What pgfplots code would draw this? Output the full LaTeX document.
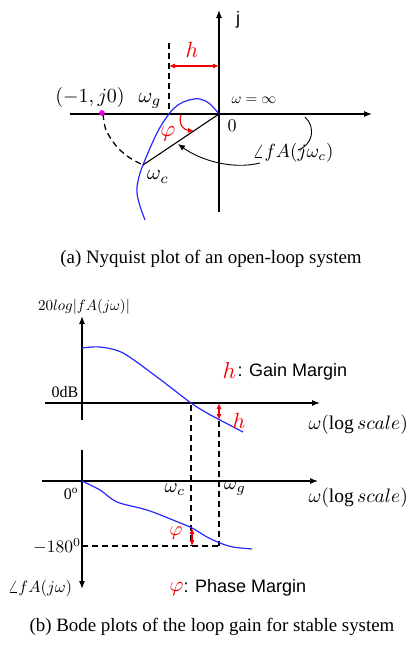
\documentclass[border=0pt]{standalone}
\usepackage{fontspec}
\usepackage{graphicx}
\usepackage{pgfplots}
\pgfplotsset{compat=1.18}
\usetikzlibrary{arrows.meta}
\setmainfont{Liberation Serif}
\newfontfamily\sansf{Liberation Sans}
\definecolor{curveblue}{RGB}{40,40,250}
\definecolor{marginred}{RGB}{240,0,0}
\definecolor{pointmag}{RGB}{230,0,230}
% math set at 10pt and scaled up to the wanted size
\newcommand\mth[2]{\scalebox{#1}{$#2$}}

\begin{document}
\begin{tikzpicture}[
  ax/.style={line width=1.1pt,-{Latex[length=8pt,width=6pt]}},
  dsh/.style={line width=1.5pt,dash pattern=on 6pt off 4pt},
  rarr/.style={marginred,line width=1.1pt,{Latex[length=6pt,width=5pt]}-{Latex[length=6pt,width=5pt]}},
]
\begin{axis}[scale only axis, width=409pt, height=645pt,
  xmin=0, xmax=409, ymin=0, ymax=645, y dir=reverse,
  hide axis, clip=false]

% ---------------- (a) Nyquist plot ----------------
\draw[ax] (70,114) -- (372,114);
\draw[ax] (219,212) -- (219,10);
\node[font=\sansf\fontsize{18}{20}\selectfont] at (238,20) {j};
\draw[dsh] (169,43) -- (169,114);
\draw[rarr] (169,66) -- (219,66);
\node[text=marginred] at (192,50) {\mth{2.2}{h}};

% loop-gain locus
\addplot[curveblue, line width=1.2pt, smooth, tension=0.6] coordinates {
  (219,114) (210,104) (200,99) (189,100) (178,105) (169,114)
  (157,133) (143,165) (138,181) (137,193) (140,206) (145,220)};
% unit-magnitude arc from (-1,j0) to the crossover point
\addplot[black, line width=1.3pt, dash pattern=on 6pt off 4pt, smooth] coordinates {
  (103,114) (106,130) (117,147) (130,158) (143,165)};
\draw[line width=1.1pt] (219,114) -- (143,165);
\addplot[only marks, mark=*, pointmag, mark size=2.6pt] coordinates {(102,113)};

\node at (90,97) {\mth{2.0}{(-1,j0)}};
\node at (150,101) {\mth{2.1}{\omega_g}};
\node at (254,100) {\mth{1.5}{\omega=\infty}};
\node at (232,126) {\mth{1.8}{0}};
\node at (158,177) {\mth{2.1}{\omega_c}};
\node[text=marginred] at (168,134) {\mth{2.3}{\varphi}};
\draw[marginred,line width=1.1pt,-{Latex[length=6pt,width=5pt]}]
  (181,115) .. controls (178,125) and (184,130) .. (194,131);
\draw[line width=0.9pt] (305,117) .. controls (316,127) and (313,145) .. (298,150);
\draw[line width=0.9pt,-{Latex[length=7pt,width=6pt]}]
  (260,163) .. controls (232,170) and (200,160) .. (178,144);
\node at (293,153) {\mth{1.9}{\angle fA(j\omega_c)}};

\node[font=\fontsize{18.9}{21}\selectfont] at (211,259) {(a) Nyquist plot of an open-loop system};

% ---------------- (b) Bode magnitude ----------------
\node at (84,307) {\mth{1.5}{20log|fA(j\omega)|}};
\draw[ax] (82,420) -- (82,316);
\draw[ax] (45,403) -- (320,403);
\node[font=\fontsize{16}{18}\selectfont] at (65,392) {0dB};
\addplot[curveblue, line width=1.2pt, smooth] coordinates {
  (82,348) (100,347) (123,353) (157,377) (191,403) (207,413) (220,420) (243,432)};
\draw[dsh] (191,405) -- (191,546);
\draw[dsh] (219,421) -- (219,546);
\draw[rarr] (219,403) -- (219,420);
\node[text=marginred] at (239,421) {\mth{2.2}{h}};
\node[anchor=west,text=marginred] at (219,371) {\mth{2.3}{h}};
\node[anchor=west,font=\sansf\fontsize{18}{20}\selectfont] at (234,372) {: Gain Margin};
\node[anchor=west] at (305,425) {\mth{1.95}{\omega(\log scale)}};

% ---------------- (b) Bode phase ----------------
\draw[ax] (42,481) -- (318,481);
\draw[ax] (82,450) -- (82,589);
\node[font=\fontsize{16}{18}\selectfont] at (71,494) {0\textsuperscript{o}};
\addplot[curveblue, line width=1.2pt, smooth] coordinates {
  (82,481) (100,490) (117,502) (147,510) (173,520) (192,528) (207,537)
  (220,543) (233,547) (252,549)};
\draw[dsh] (82,546) -- (219,546);
\node at (57,546) {\mth{1.75}{-180^0}};
\node at (175,490) {\mth{2.0}{\omega_c}};
\node at (235,488) {\mth{2.0}{\omega_g}};
\node[anchor=west] at (305,498) {\mth{1.95}{\omega(\log scale)}};
\node[text=marginred] at (176,533) {\mth{2.0}{\varphi}};
\draw[rarr] (192,528) -- (192,546);
\node[anchor=west,text=marginred] at (166,589) {\mth{2.1}{\varphi}};
\node[anchor=west,font=\sansf\fontsize{18}{20}\selectfont] at (180,588) {: Phase Margin};
\node at (40,588) {\mth{1.65}{\angle fA(j\omega)}};

\node[font=\fontsize{18.9}{21}\selectfont] at (212,627) {(b) Bode plots of the loop gain for stable system};

\path (0,0) rectangle (409,645);
\end{axis}
\end{tikzpicture}
\end{document}
